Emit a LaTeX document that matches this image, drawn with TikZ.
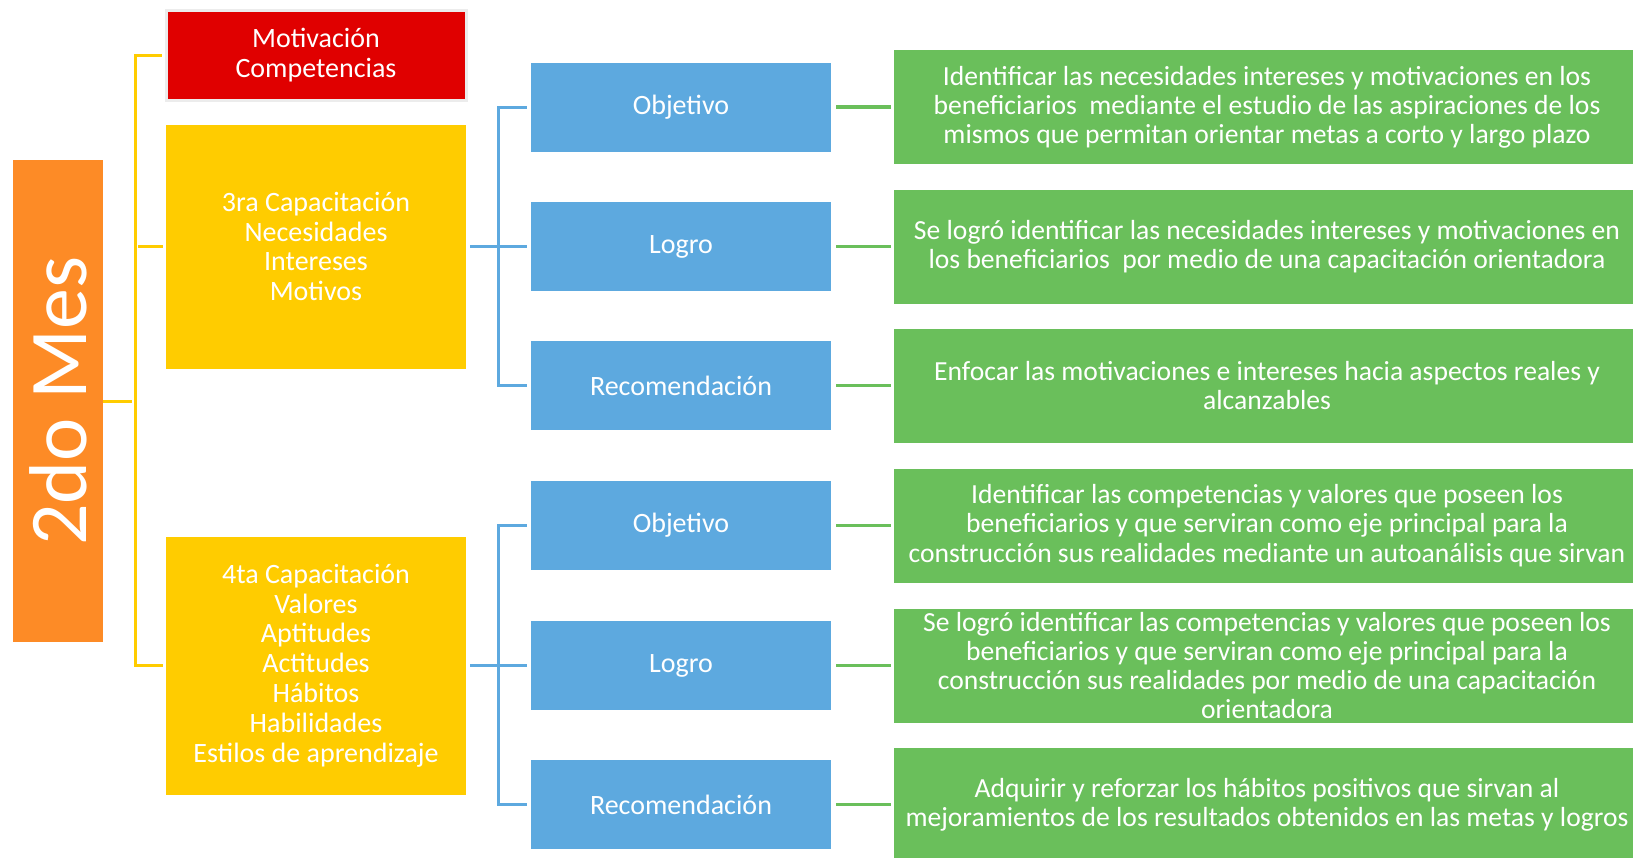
\documentclass[tikz,border=0pt]{standalone}
\usepackage{fontspec}
\setmainfont{Carlito}
\definecolor{mesorange}{RGB}{253,139,38}
\definecolor{motred}{RGB}{224,0,0}
\definecolor{capyellow}{RGB}{255,204,0}
\definecolor{itemblue}{RGB}{93,169,223}
\definecolor{infogreen}{RGB}{106,191,91}
\begin{document}
\begin{tikzpicture}[x=0.5pt,y=-0.5pt,
        box/.style={rectangle,inner sep=0pt,text=white,align=center},
        capbox/.style={box,fill=capyellow,minimum width=150pt,font=\fontsize{14}{14.9}\selectfont},
        itembox/.style={box,fill=itemblue,minimum width=150pt,minimum height=44.5pt,font=\fontsize{14}{16}\selectfont},
        infobox/.style={box,fill=infogreen,minimum width=373pt,minimum height=57pt,font=\fontsize{13.8}{14.6}\selectfont},
        ycon/.style={draw=capyellow,line width=1.5pt,shorten >=1.5pt},
        bcon/.style={draw=itemblue,line width=1.5pt,shorten <=2pt,shorten >=2pt},
        gcon/.style={draw=infogreen,line width=1.75pt,shorten <=2.5pt,shorten >=1.5pt}]
    \useasboundingbox (0,0) rectangle (1633,857);
    % left column
    \node[box,fill=mesorange,minimum width=45pt,minimum height=241pt] (mes) at (58,401) {};
    \node[rotate=90,text=white,font=\fontsize{41}{41}\selectfont] (mestext) at (mes.center) {2do Mes};
    \node[capbox,fill=motred,draw=gray!15,line width=1.5pt,minimum height=45pt] (mot) at (316,55) {Motivación\\Competencias};
    \node[capbox,minimum height=122pt] (cap3) at (316,246.5) {3ra Capacitación\\Necesidades\\Intereses\\Motivos};
    \node[capbox,minimum height=129pt] (cap4) at (316,665.5) {4ta Capacitación\\Valores\\Aptitudes\\Actitudes\\Hábitos\\Habilidades\\Estilos de aprendizaje};
    \coordinate (ytrunk) at (135,401);
    \draw[ycon] (mes.east) -- (ytrunk);
    \draw[ycon,shorten <=1.5pt] (mot.west) -| (ytrunk) |- (cap4.west);
    \draw[ycon,shorten <=1.5pt] (cap3.west) -- (cap3.west -| ytrunk);
    % 3ra capacitacion
    \node[itembox] (obj3) at (681,107) {Objetivo};
    \node[itembox] (log3) at (681,246.5) {Logro};
    \node[itembox] (rec3) at (681,385.5) {Recomendación};
    \coordinate (btrunk3) at (498,246.5);
    \draw[bcon] (cap3.east) -- (log3.west);
    \draw[bcon] (obj3.west) -| (btrunk3) |- (rec3.west);
    \node[infobox] (gobj3) at (1267,107) {Identificar las necesidades intereses y motivaciones en los\\beneficiarios~ mediante el estudio de las aspiraciones de los\\mismos que permitan orientar metas a corto y largo plazo};
    \node[infobox] (glog3) at (1267,246.5) {Se logró identificar las necesidades intereses y motivaciones en\\los beneficiarios~ por medio de una capacitación orientadora};
    \node[infobox] (grec3) at (1267,385.5) {Enfocar las motivaciones e intereses hacia aspectos reales y\\alcanzables};
    \draw[gcon] (obj3.east) -- (gobj3.west);
    \draw[gcon] (log3.east) -- (glog3.west);
    \draw[gcon] (rec3.east) -- (grec3.west);
    % 4ta capacitacion
    \node[itembox] (obj4) at (681,525.5) {Objetivo};
    \node[itembox] (log4) at (681,665.5) {Logro};
    \node[itembox] (rec4) at (681,804.5) {Recomendación};
    \coordinate (btrunk4) at (498,665.5);
    \draw[bcon] (cap4.east) -- (log4.west);
    \draw[bcon] (obj4.west) -| (btrunk4) |- (rec4.west);
    \node[infobox] (gobj4) at (1267,525.5) {Identificar las competencias y valores que poseen los\\beneficiarios y que serviran como eje principal para la\\construcción sus realidades mediante un autoanálisis que sirvan};
    \node[infobox] (glog4) at (1267,665.5) {Se logró identificar las competencias y valores que poseen los\\beneficiarios y que serviran como eje principal para la\\construcción sus realidades por medio de una capacitación\\orientadora};
    \node[infobox] (grec4) at (1267,804.5) {Adquirir y reforzar los hábitos positivos que sirvan al\\mejoramientos de los resultados obtenidos en las metas y logros};
    \draw[gcon] (obj4.east) -- (gobj4.west);
    \draw[gcon] (log4.east) -- (glog4.west);
    \draw[gcon] (rec4.east) -- (grec4.west);
\end{tikzpicture}
\end{document}
